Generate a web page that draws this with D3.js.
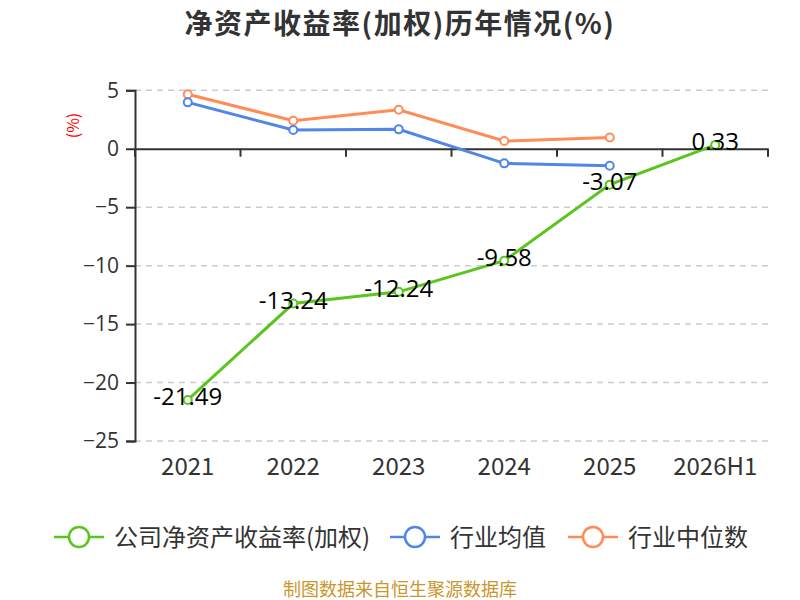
<!DOCTYPE html>
<html>
<head>
<meta charset="utf-8">
<script src="https://cdn.jsdelivr.net/npm/d3@7"></script>
<style>
  body { margin: 0; background: #fff; }
  svg { font-family: "Noto Sans CJK SC", "Noto Sans", sans-serif; }
</style>
</head>
<body>
<div class="chart"></div>
<script>
const years = ['2021', '2022', '2023', '2024', '2025', '2026H1']
const companyRoe = [-21.49, -13.24, -12.24, -9.58, -3.07, 0.33]
const industryAvg = [3.97, 1.6, 1.66, -1.25, -1.45]
const industryMedian = [4.66, 2.4, 3.34, 0.66, 0.97]
const yTicks = [5, 0, -5, -10, -15, -20, -25]
const seriesNames = ['公司净资产收益率(加权)', '行业均值', '行业中位数']

const WIDTH = 800
const HEIGHT = 600
const margin = {top: 90.3, right: 32, bottom: 159, left: 135}
const innerW = WIDTH - margin.left - margin.right
const innerH = HEIGHT - margin.top - margin.bottom

const green = '#5cc41f'
const blue = '#4f86e8'
const orange = '#ff8c57'
const numFont = '"Open Sans", "Noto Sans", sans-serif'

const svg = d3.select('.chart')
  .append('svg')
  .attr('width', WIDTH)
  .attr('height', HEIGHT)

// title
svg.append('text')
  .attr('x', WIDTH / 2)
  .attr('y', 34)
  .attr('text-anchor', 'middle')
  .style('font-size', '28px')
  .style('letter-spacing', '1.5px')
  .style('font-weight', 'bold')
  .style('fill', '#333')
  .text('净资产收益率(加权)历年情况(%)')

const g = svg.append('g')
  .attr('transform', 'translate(' + margin.left + ',' + margin.top + ')')

const x = d3.scaleBand().domain(years).range([0, innerW])
const y = d3.scaleLinear().domain([-25, 5]).range([innerH, 0])
const cx = d => x(d) + x.bandwidth() / 2

// gridlines
g.append('g')
  .selectAll('line')
  .data(yTicks.filter(t => t !== 0))
  .enter()
  .append('line')
  .attr('x1', 0)
  .attr('x2', innerW)
  .attr('y1', d => y(d))
  .attr('y2', d => y(d))
  .attr('stroke', '#ccc')
  .attr('stroke-width', 1.5)
  .attr('stroke-dasharray', '6,5')

// y axis
const yAxis = g.append('g')
  .call(d3.axisLeft(y).tickValues(yTicks).tickSize(9).tickPadding(7))
yAxis.select('.domain').attr('stroke', '#333').attr('stroke-width', 2)
yAxis.selectAll('.tick line').attr('stroke', '#333').attr('stroke-width', 2)
yAxis.selectAll('.tick text')
  .style('font-size', '21px')
  .style('fill', '#333')
  .style('font-family', numFont)

// x axis at zero
const xAxis = g.append('g')
  .attr('transform', 'translate(0,' + y(0) + ')')
  .call(d3.axisBottom(x).tickSize(0).tickFormat(''))
xAxis.select('.domain').attr('stroke', '#333').attr('stroke-width', 2)
xAxis.selectAll('.boundary')
  .data(d3.range(years.length + 1))
  .enter()
  .append('line')
  .attr('x1', i => i * x.step())
  .attr('x2', i => i * x.step())
  .attr('y1', 0)
  .attr('y2', 8)
  .attr('stroke', '#333')
  .attr('stroke-width', 2)

// category labels below plot
g.append('g')
  .selectAll('text')
  .data(years)
  .enter()
  .append('text')
  .attr('x', d => cx(d))
  .attr('y', innerH + 34)
  .attr('text-anchor', 'middle')
  .style('font-size', '24px')
  .style('fill', '#333')
  .text(d => d)

// y axis unit
svg.append('text')
  .attr('transform', 'translate(79,' + 125.5 + ') rotate(-90)')
  .attr('text-anchor', 'middle')
  .style('font-size', '16px')
  .style('fill', '#f00')
  .text('(%)')

function drawSeries (values, color) {
  const pts = values.map((v, i) => [cx(years[i]), y(v)])
  g.append('path')
    .attr('d', d3.line()(pts))
    .attr('fill', 'none')
    .attr('stroke', color)
    .attr('stroke-width', 3)
  g.append('g')
    .selectAll('circle')
    .data(pts)
    .enter()
    .append('circle')
    .attr('cx', d => d[0])
    .attr('cy', d => d[1])
    .attr('r', 4)
    .attr('fill', '#fff')
    .attr('stroke', color)
    .attr('stroke-width', 2)
}

drawSeries(industryMedian, orange)
drawSeries(industryAvg, blue)
drawSeries(companyRoe, green)

// value labels
g.append('g')
  .selectAll('text')
  .data(companyRoe)
  .enter()
  .append('text')
  .attr('x', (d, i) => cx(years[i]))
  .attr('y', d => y(d) + 5)
  .attr('text-anchor', 'middle')
  .style('font-size', '24px')
  .style('fill', '#000')
  .style('font-family', numFont)
  .text(d => d.toFixed(2))

// legend
const legendItems = [
  {name: seriesNames[0], color: green, x: 54},
  {name: seriesNames[1], color: blue, x: 390},
  {name: seriesNames[2], color: orange, x: 568}
]
const legend = svg.append('g')
legendItems.forEach(item => {
  const lg = legend.append('g').attr('transform', 'translate(' + item.x + ',537)')
  lg.append('line')
    .attr('x1', 0).attr('x2', 50)
    .attr('stroke', item.color).attr('stroke-width', 2.5)
  lg.append('circle')
    .attr('cx', 25).attr('r', 10)
    .attr('fill', '#fff').attr('stroke', item.color).attr('stroke-width', 2.5)
  lg.append('text')
    .attr('x', 60)
    .attr('y', 9)
    .style('font-size', '24px')
    .style('fill', '#333')
    .text(item.name)
})

// footer
svg.append('text')
  .attr('x', WIDTH / 2)
  .attr('y', 596)
  .attr('text-anchor', 'middle')
  .style('font-size', '18px')
  .style('fill', '#c9962c')
  .text('制图数据来自恒生聚源数据库')
</script>
</body>
</html>
